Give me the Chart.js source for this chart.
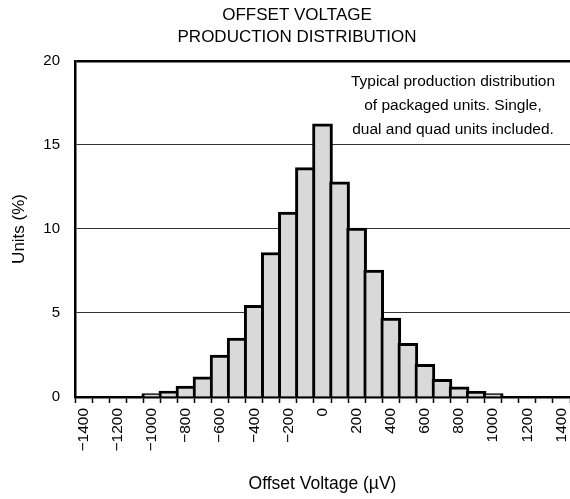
<!DOCTYPE html>
<html>
<head>
<meta charset="utf-8">
<title>Offset Voltage Production Distribution</title>
<script src="https://cdn.jsdelivr.net/npm/chart.js@4.4.1/dist/chart.umd.min.js"></script>
<style>
  html, body { margin: 0; padding: 0; background: #fff; }
  #wrap { width: 570px; height: 499px; }
</style>
</head>
<body>
<div id="wrap"><canvas id="myChart" width="570" height="499"></canvas></div>
<script>
// bin centres in µV, 100 µV wide
const binCenters = [-1400, -1300, -1200, -1100, -1000, -900, -800, -700, -600, -500, -400, -300, -200, -100,
    0, 100, 200, 300, 400, 500, 600, 700, 800, 900, 1000, 1100, 1200, 1300, 1400];

// percentage of units in each bin
const unitsPct = [null, null, null, null, 0.2, 0.35, 0.65, 1.2, 2.5, 3.5, 5.45, 8.6, 11.0, 13.65,
    16.25, 12.8, 10.05, 7.55, 4.7, 3.2, 1.95, 1.05, 0.6, 0.33, 0.2, null, null, null, null];

const tickLabels = ['\u22121400', '', '\u22121200', '', '\u22121000', '', '\u2212800', '', '\u2212600', '', '\u2212400', '', '\u2212200', '',
    '0', '', '200', '', '400', '', '600', '', '800', '', '1000', '', '1200', '', '1400'];

const yTicks = [0, 5, 10, 15, 20];

const noteLines = [
    'Typical production distribution',
    'of packaged units. Single,',
    'dual and quad units included.'
];

const FONT = '"Liberation Sans", Arial, Helvetica, sans-serif';

Chart.defaults.font.family = FONT;
Chart.defaults.color = '#000';

// text box in the upper right corner of the plot
const notePlugin = {
    id: 'note',
    afterDraw(chart) {
        const { ctx, chartArea } = chart;
        ctx.save();
        ctx.font = '15.5px ' + FONT;
        ctx.fillStyle = '#000';
        ctx.textAlign = 'center';
        ctx.textBaseline = 'middle';
        noteLines.forEach((line, i) => {
            ctx.fillText(line, chartArea.right - 117, chartArea.top + 21 + i * 24);
        });
        ctx.restore();
    }
};

const ctx = document.getElementById('myChart').getContext('2d');
const myChart = new Chart(ctx, {
    type: 'bar',
    data: {
        labels: binCenters,
        datasets: [{
            data: unitsPct,
            backgroundColor: '#d9d9d9',
            borderColor: '#000',
            borderWidth: 3,
            barThickness: 20
        }]
    },
    options: {
        responsive: false,
        animation: false,
        devicePixelRatio: 1,
        layout: { padding: { left: 24, right: 0, top: 0, bottom: 0 } },
        plugins: {
            legend: { display: false },
            tooltip: { enabled: false },
            title: {
                display: true,
                text: ['OFFSET VOLTAGE', 'PRODUCTION DISTRIBUTION'],
                color: '#000',
                font: { size: 17, weight: 'normal', lineHeight: 1.32 },
                padding: { top: 4, bottom: 12 }
            }
        },
        scales: {
            x: {
                z: 1,
                offset: true,
                grid: {
                    offset: true,
                    drawOnChartArea: false,
                    drawTicks: true,
                    tickLength: 6,
                    tickWidth: 1.5,
                    tickColor: '#000'
                },
                border: { display: true, color: '#000', width: 2.5 },
                ticks: {
                    autoSkip: false,
                    minRotation: 90,
                    maxRotation: 90,
                    padding: 5,
                    font: { size: 15.5 },
                    callback: (value, index) => tickLabels[index]
                },
                title: {
                    display: true,
                    text: 'Offset Voltage (\u00b5V)',
                    font: { size: 17.5 },
                    padding: { top: 0, bottom: 4 }
                },
                afterFit: (scale) => {
                    scale.height = 102;
                    scale.paddingLeft = 0;
                    scale.paddingRight = 0;
                }
            },
            y: {
                min: 0,
                max: 20,
                afterBuildTicks: (scale) => { scale.ticks = yTicks.map(v => ({ value: v })); },
                grid: {
                    drawTicks: false,
                    color: (c) => c.tick && c.tick.value === 20 ? '#000' : '#333',
                    lineWidth: (c) => c.tick && c.tick.value === 20 ? 2.5 : 1
                },
                border: { display: true, color: '#000', width: 2.5 },
                ticks: {
                    padding: 15,
                    font: { size: 15 }
                },
                title: {
                    display: true,
                    text: 'Units (%)',
                    font: { size: 17 },
                    padding: { top: -15, bottom: 0 }
                },
                afterFit: (scale) => { scale.width = 51; }
            }
        }
    },
    plugins: [notePlugin]
});
</script>
</body>
</html>
